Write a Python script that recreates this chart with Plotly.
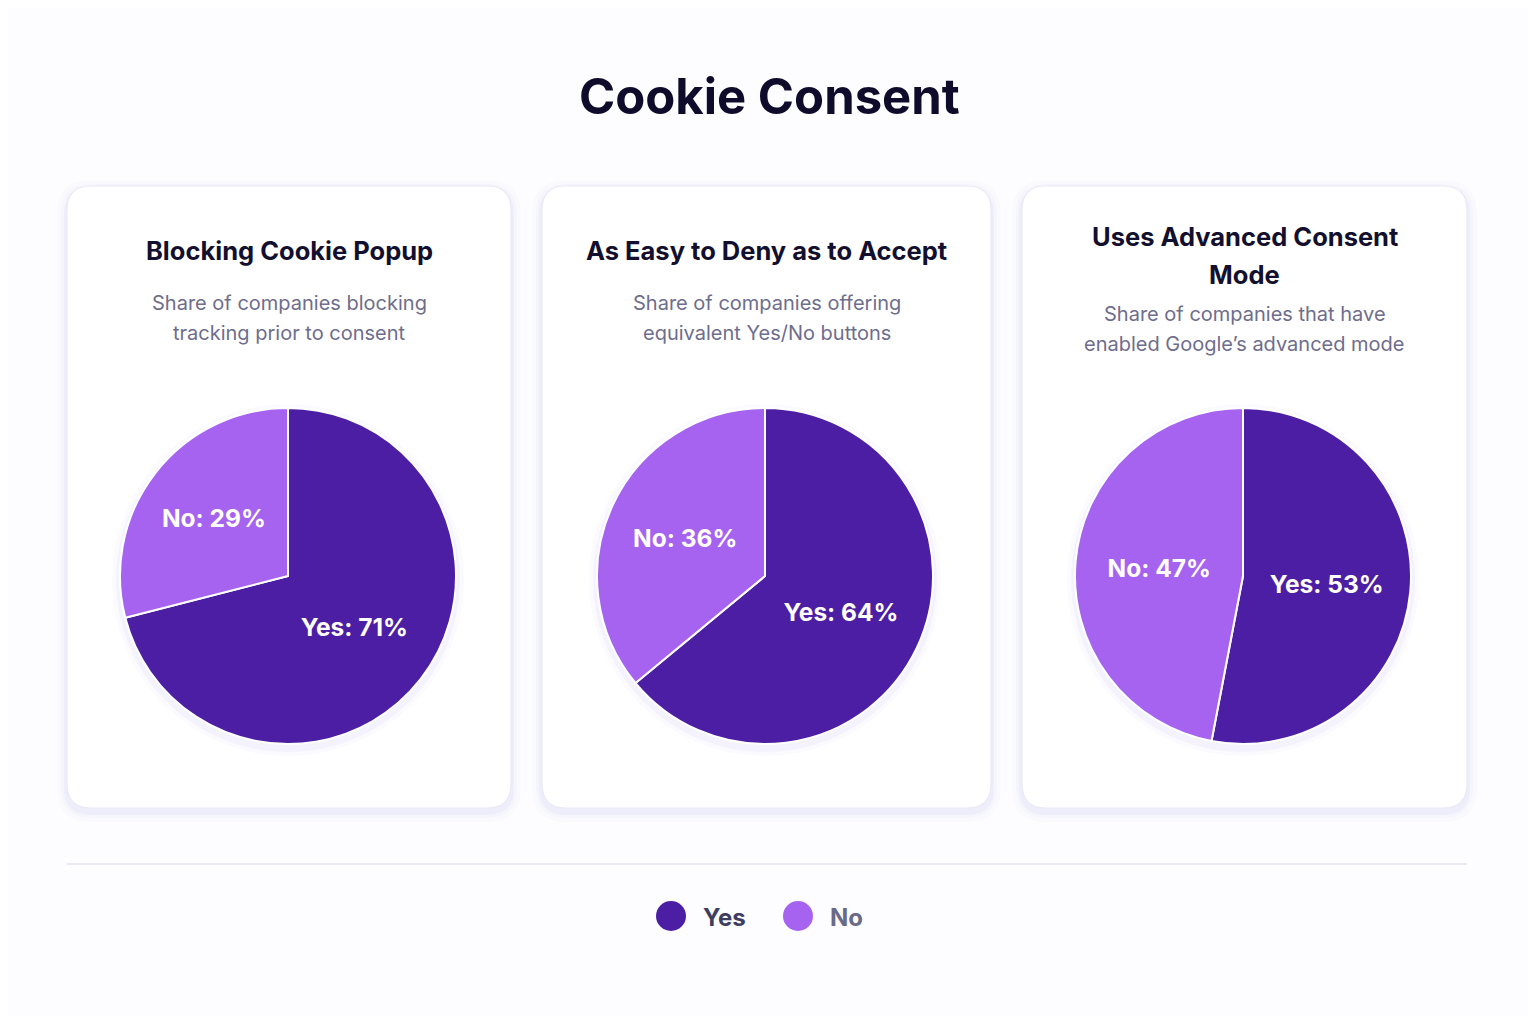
import plotly.graph_objects as go

# the page puts an 8px body margin round the figure, so the figure is that much smaller
OFF = 8
W, H = 1536 - 2 * OFF, 1024 - 2 * OFF

# data
chart_title = "Cookie Consent"
panel_titles = [
    ["Blocking Cookie Popup"],
    ["As Easy to Deny as to Accept"],
    ["Uses Advanced Consent", "Mode"],
]
panel_subtitles = [
    ["Share of companies blocking", "tracking prior to consent"],
    ["Share of companies offering", "equivalent Yes/No buttons"],
    ["Share of companies that have", "enabled Google\u2019s advanced mode"],
]
categories = ["Yes", "No"]
yes_values = [71, 64, 53]
no_values = [29, 36, 47]
colors = ["#4c1ea3", "#a663f0"]

FONT = "Inter"
BG = "#fdfdff"


def px(x):
    return (x - OFF) / W


def py(y):
    return 1 - (y - OFF) / H


def round_rect(x0, y0, x1, y1, r):
    """Rounded rectangle path in paper coords, from page pixel values."""
    pts = [
        f"M {px(x0 + r)} {py(y0)}",
        f"L {px(x1 - r)} {py(y0)}",
        f"Q {px(x1)} {py(y0)} {px(x1)} {py(y0 + r)}",
        f"L {px(x1)} {py(y1 - r)}",
        f"Q {px(x1)} {py(y1)} {px(x1 - r)} {py(y1)}",
        f"L {px(x0 + r)} {py(y1)}",
        f"Q {px(x0)} {py(y1)} {px(x0)} {py(y1 - r)}",
        f"L {px(x0)} {py(y0 + r)}",
        f"Q {px(x0)} {py(y0)} {px(x0 + r)} {py(y0)}",
        "Z",
    ]
    return " ".join(pts)


cards = [(67, 186, 511, 808), (542, 186, 991, 808), (1022, 186, 1467, 808)]
pie_centers = [(288, 576), (765, 576), (1243, 576)]
pie_r = 168

fig = go.Figure()
shapes = []
annotations = []

for i, (x0, y0, x1, y1) in enumerate(cards):
    # soft shadow
    for k, op in [(10, 0.025), (6, 0.035), (3, 0.05)]:
        shapes.append(dict(
            type="path", xref="paper", yref="paper", layer="below",
            path=round_rect(x0 - k, y0 - k + 4, x1 + k, y1 + k + 4, 24 + k),
            fillcolor="#7c6bd1", opacity=op, line=dict(width=0),
        ))
    shapes.append(dict(
        type="path", xref="paper", yref="paper", layer="below",
        path=round_rect(x0, y0, x1, y1, 24),
        fillcolor="#ffffff", line=dict(color="#ebe9f6", width=1.2),
    ))

    cx_card = (x0 + x1) / 2
    n = len(panel_titles[i])
    for j, line in enumerate(panel_titles[i]):
        annotations.append(dict(
            x=px(cx_card), y=py(250 - 13 * (n - 1) + 38 * j),
            xref="paper", yref="paper", showarrow=False,
            text=f"<b>{line}</b>", xanchor="center", yanchor="middle",
            font=dict(family=FONT, size=25.5, color="#12102e"),
        ))
    for j, line in enumerate(panel_subtitles[i]):
        annotations.append(dict(
            x=px(cx_card), y=py(303 + 11 * (n - 1) + 30 * j),
            xref="paper", yref="paper", showarrow=False,
            text=line, xanchor="center", yanchor="middle",
            font=dict(family=FONT, size=20, color="#6e6d8c"),
        ))

    cx, cy = pie_centers[i]
    # pie shadow
    for k, op in [(8, 0.03), (4, 0.05)]:
        shapes.append(dict(
            type="circle", xref="paper", yref="paper", layer="below",
            x0=px(cx - pie_r - k), x1=px(cx + pie_r + k),
            y0=py(cy + pie_r + k + 4), y1=py(cy - pie_r - k + 4),
            fillcolor="#7c5ad6", opacity=op, line=dict(width=0),
        ))

    fig.add_trace(go.Pie(
        labels=categories,
        values=[yes_values[i], no_values[i]],
        sort=False,
        direction="clockwise",
        rotation=0,
        marker=dict(colors=colors, line=dict(color="#ffffff", width=2)),
        texttemplate="<b>%{label}: %{value}%</b>",
        textposition="inside",
        insidetextorientation="horizontal",
        textfont=dict(family=FONT, size=24.5, color="#ffffff"),
        hovertemplate="%{label}: %{value}%<extra></extra>",
        domain=dict(x=[px(cx - pie_r), px(cx + pie_r)],
                    y=[py(cy + pie_r), py(cy - pie_r)]),
        showlegend=False,
    ))

# title
annotations.append(dict(
    x=px(770), y=py(96), xref="paper", yref="paper", showarrow=False,
    text=f"<b>{chart_title}</b>", xanchor="center", yanchor="middle",
    font=dict(family=FONT, size=49, color="#0e0b2b"),
))

# divider
shapes.append(dict(
    type="line", xref="paper", yref="paper", layer="below",
    x0=px(67), x1=px(1467), y0=py(864), y1=py(864),
    line=dict(color="#e5e3f0", width=1.5),
))

# legend
legend_x = [671, 798]
legend_text_colors = ["#403e5e", "#6b6a86"]
for k, cat in enumerate(categories):
    lx = legend_x[k]
    shapes.append(dict(
        type="circle", xref="paper", yref="paper",
        x0=px(lx - 15), x1=px(lx + 15), y0=py(931), y1=py(901),
        fillcolor=colors[k], line=dict(width=0),
    ))
    annotations.append(dict(
        x=px(lx + 30), y=py(917), xref="paper", yref="paper", showarrow=False,
        text=f"<b>{cat}</b>", xanchor="left", yanchor="middle",
        font=dict(family=FONT, size=24, color=legend_text_colors[k]),
    ))

fig.update_layout(
    width=W, height=H,
    margin=dict(l=0, r=0, t=0, b=0),
    paper_bgcolor=BG,
    plot_bgcolor=BG,
    shapes=shapes,
    annotations=annotations,
    showlegend=False,
)

fig.write_html("out.html")
